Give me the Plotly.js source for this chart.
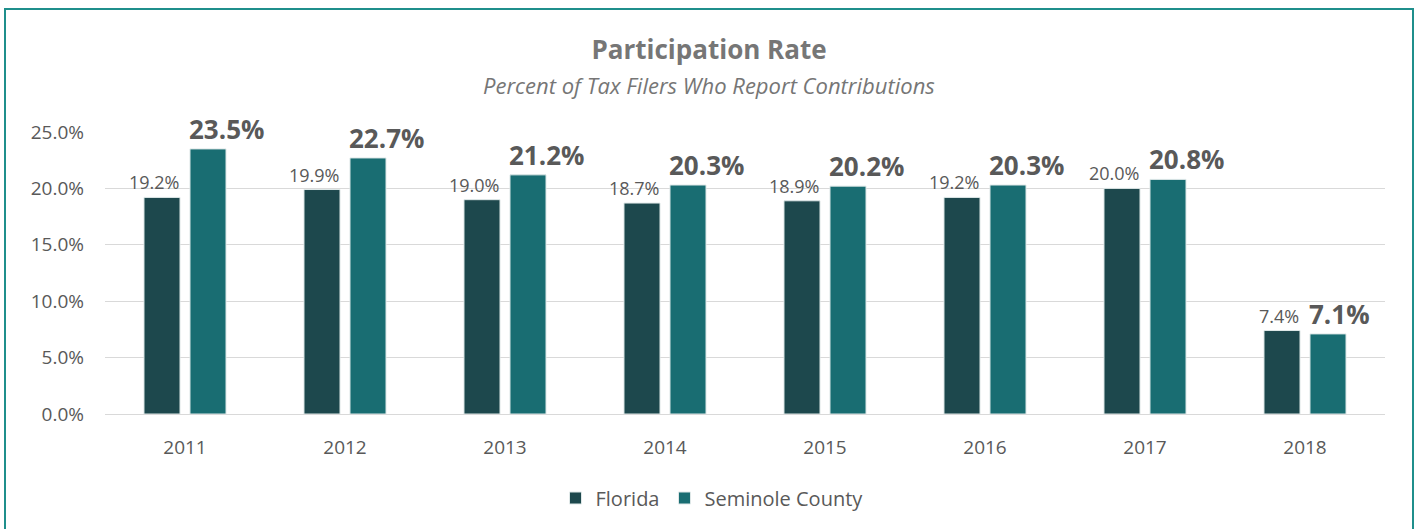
<!DOCTYPE html>
<html>
<head>
<meta charset="utf-8">
<script src="https://cdn.plot.ly/plotly-3.0.1.min.js"></script>
<style>
html,body{margin:0;padding:0;background:#fff;overflow:hidden;}
#wrap{position:relative;width:1419px;height:529px;}
#chart{position:absolute;left:0;top:0;width:1419px;height:529px;}
#frame{position:absolute;left:4px;top:8px;width:1406px;height:540px;border:2px solid #1f8f8c;pointer-events:none;}
</style>
</head>
<body>
<div id="wrap"><div id="chart"></div><div id="frame"></div></div>
<script>
const years = ['2011','2012','2013','2014','2015','2016','2017','2018'];
const florida = [19.2, 19.9, 19.0, 18.7, 18.9, 19.2, 20.0, 7.4];
const seminole = [23.5, 22.7, 21.2, 20.3, 20.2, 20.3, 20.8, 7.1];
const yTicks = [0, 5, 10, 15, 20, 25];
const yTickText = ['0.0%','5.0%','10.0%','15.0%','20.0%','25.0%'];

const fontFam = '"Open Sans", "Noto Sans", sans-serif';
const traces = [
  {type:'bar', name:'Florida', x:years, y:florida,
   marker:{color:'#1d484d', line:{color:'#dfe8e8', width:1}}, hoverinfo:'none'},
  {type:'bar', name:'Seminole County', x:years, y:seminole,
   marker:{color:'#196d72', line:{color:'#dfe8e8', width:1}}, hoverinfo:'none'}
];
const labelAnns = [];
years.forEach((yr, i) => {
  labelAnns.push({x:i, y:florida[i], xref:'x', yref:'y', text:florida[i].toFixed(1)+'%',
    xanchor:'right', yanchor:'bottom', xshift:-4, yshift:1, showarrow:false,
    font:{family:fontFam, size:18, color:'#595959'}});
  labelAnns.push({x:i, y:seminole[i], xref:'x', yref:'y', text:'<b>'+seminole[i].toFixed(1)+'%</b>',
    xanchor:'left', yanchor:'bottom', xshift:2, yshift:0, showarrow:false,
    font:{family:fontFam, size:26, color:'#595959'}});
});
const layout = {
  width:1419, height:529,
  margin:{l:105, r:34, t:132, b:115},
  paper_bgcolor:'#ffffff', plot_bgcolor:'#ffffff',
  font:{family:fontFam, color:'#595959'},
  title:{text:'<b>Participation Rate</b>', x:(709-105)/1280, xanchor:'center', xref:'paper',
         y:1-50/529, yanchor:'middle', yref:'container',
         font:{family:fontFam, size:26, color:'#767676'}},
  annotations:[{text:'<i>Percent of Tax Filers Who Report Contributions</i>', xref:'paper', yref:'paper',
         x:(709-105)/1280, xanchor:'center', y:(414-85)/282, yanchor:'middle', showarrow:false,
         font:{family:fontFam, size:22, color:'#767676'}}].concat(labelAnns),
  barmode:'group', bargap:0.425, bargroupgap:0.217,
  xaxis:{type:'category', range:[-0.5, years.length-0.5], tickfont:{size:19, color:'#595959'}, showgrid:false, zeroline:false,
         showline:true, linecolor:'#d9d9d9', linewidth:1, ticks:'', ticklen:0, ticklabelstandoff:16},
  yaxis:{range:[0,25], tickvals:yTicks, ticktext:yTickText, tickfont:{size:19, color:'#595959'},
         showgrid:true, gridcolor:'#d9d9d9', gridwidth:1, zeroline:false, showline:false, ticks:'', ticklabelstandoff:20},
  legend:{orientation:'h', x:(712-105)/1280, xanchor:'center', y:(414-498)/282, yanchor:'middle',
          font:{size:20, color:'#595959'}, traceorder:'normal'},
  showlegend:true
};
Plotly.newPlot('chart', traces, layout, {displayModeBar:false, staticPlot:true});
</script>
</body>
</html>
